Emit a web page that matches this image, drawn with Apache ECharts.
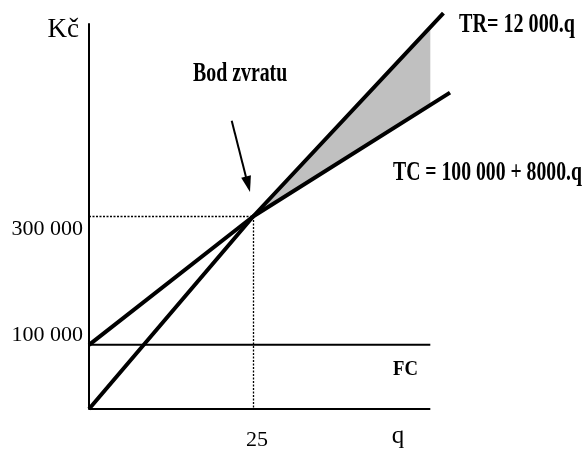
<!DOCTYPE html>
<html>
<head>
<meta charset="utf-8">
<script src="https://cdn.jsdelivr.net/npm/echarts@6/dist/echarts.min.js"></script>
<style>
  html, body { margin: 0; padding: 0; background: #fff; }
  #chart { width: 586px; height: 451px; }
</style>
</head>
<body>
<div id="chart"></div>
<script>
// ---- data ----
const breakEven = [25, 300000];
const trQ = [0, 25, 54];
const trValues = [0, 300000, 617000];
const tcQ = [0, 25, 55];
const tcValues = [100000, 300000, 493000];
const fcQ = [0, 52];
const fcValues = [100000, 100000];
const yTickValues = [100000, 300000];
const xTickValues = [25];
const qAxisEnd = 52;
const xMax = 55;
const yMax = 600000;

const trLabel = 'TR= 12 000.q';
const tcLabel = 'TC = 100 000 + 8000.q';
const fcLabel = 'FC';
const beLabel = 'Bod zvratu';

const pairs = (xs, ys) => xs.map((x, i) => [x, ys[i]]);
const trData = pairs(trQ, trValues);
const tcData = pairs(tcQ, tcValues);
const fcData = pairs(fcQ, fcValues);
const fmt = v => String(v).replace(/\B(?=(\d{3})+(?!\d))/g, ' ');

const serif = '"Liberation Serif", "Times New Roman", serif';

const chart = echarts.init(document.getElementById('chart'), null, { renderer: 'canvas' });

chart.setOption({
  animation: false,
  backgroundColor: '#fff',
  grid: { left: 89, right: 136, top: 24, bottom: 41, containLabel: false },
  xAxis: {
    type: 'value', min: 0, max: xMax,
    name: 'q', nameLocation: 'end', nameGap: -52,
    nameTextStyle: { fontFamily: serif, fontSize: 25, color: '#000', align: 'center', verticalAlign: 'top', padding: [15, 0, 0, 0] },
    axisLine: { show: false },
    axisTick: { show: false },
    splitLine: { show: false },
    axisLabel: { customValues: xTickValues, margin: 20, fontFamily: serif, fontSize: 22, color: '#000', padding: [0, 0, 0, 8] }
  },
  yAxis: {
    type: 'value', min: 0, max: yMax,
    name: 'Kč', nameLocation: 'end', nameGap: -6,
    nameTextStyle: { fontFamily: serif, fontSize: 27, color: '#000', align: 'right', verticalAlign: 'middle', padding: [0, 10, 0, 0] },
    axisLine: { show: true, onZero: false, lineStyle: { color: '#000', width: 2 } },
    axisTick: { show: false },
    splitLine: { show: false },
    axisLabel: {
      customValues: yTickValues, margin: 6, fontFamily: serif, fontSize: 22, color: '#000',
      formatter: v => (v >= 300000 ? '{lo|' : '{hi|') + fmt(v) + '}',
      rich: {
        lo: { fontFamily: serif, fontSize: 22, color: '#000', padding: [26, 0, 0, 0] },
        hi: { fontFamily: serif, fontSize: 22, color: '#000', padding: [0, 0, 20, 0] }
      }
    }
  },
  series: [
    {
      type: 'custom',
      name: 'zisk',
      clip: false,
      z: 1,
      silent: true,
      data: [0],
      renderItem: function (params, api) {
        const pts = [api.coord(breakEven), api.coord(trData[trData.length - 1]), api.coord(tcData[tcData.length - 1])];
        const tl = api.coord([0, yMax]);
        const br = api.coord([qAxisEnd, 0]);
        return {
          type: 'polygon',
          shape: { points: pts },
          style: { fill: '#c0c0c0', stroke: null },
          clipPath: { type: 'rect', shape: { x: tl[0], y: tl[1], width: br[0] - tl[0], height: br[1] - tl[1] } }
        };
      }
    },
    {
      type: 'line', name: 'q-osa', data: [[0, 0], [qAxisEnd, 0]], symbol: 'none', z: 3, silent: true,
      lineStyle: { color: '#000', width: 2 }
    },
    {
      type: 'line', name: 'FC', data: fcData, symbol: 'none', z: 3,
      lineStyle: { color: '#000', width: 2 },
      markLine: {
        silent: true, symbol: 'none', label: { show: false },
        lineStyle: { color: '#000', width: 1.3, type: [2, 1.5] },
        data: [
          [{ coord: [0, breakEven[1]] }, { coord: breakEven }],
          [{ coord: breakEven }, { coord: [breakEven[0], 0] }]
        ]
      }
    },
    {
      type: 'line', name: 'TR', data: trData, symbol: 'none', clip: false, z: 4,
      lineStyle: { color: '#000', width: 4 }
    },
    {
      type: 'line', name: 'TC', data: tcData, symbol: 'none', clip: false, z: 4,
      lineStyle: { color: '#000', width: 4 }
    }
  ],
  graphic: [
    { type: 'text', x: 193, y: 74, scaleX: 0.735, z: 10,
      style: { text: beLabel, font: 'bold 27px ' + serif, fill: '#000', align: 'left', verticalAlign: 'middle' } },
    { type: 'text', x: 459, y: 25, scaleX: 0.745, z: 10,
      style: { text: trLabel, font: 'bold 27px ' + serif, fill: '#000', align: 'left', verticalAlign: 'middle' } },
    { type: 'text', x: 393, y: 173, scaleX: 0.73, z: 10,
      style: { text: tcLabel, font: 'bold 27px ' + serif, fill: '#000', align: 'left', verticalAlign: 'middle' } },
    { type: 'text', x: 393, y: 369, scaleX: 0.85, z: 10,
      style: { text: fcLabel, font: 'bold 22px ' + serif, fill: '#000', align: 'left', verticalAlign: 'middle' } },
    { type: 'line', z: 10, shape: { x1: 231.7, y1: 120.7, x2: 246, y2: 177 }, style: { stroke: '#000', lineWidth: 2 } },
    { type: 'polygon', z: 10, shape: { points: [[250, 192], [250.9, 175.3], [241.2, 177.8]] }, style: { fill: '#000' } }
  ]
});
</script>
</body>
</html>
